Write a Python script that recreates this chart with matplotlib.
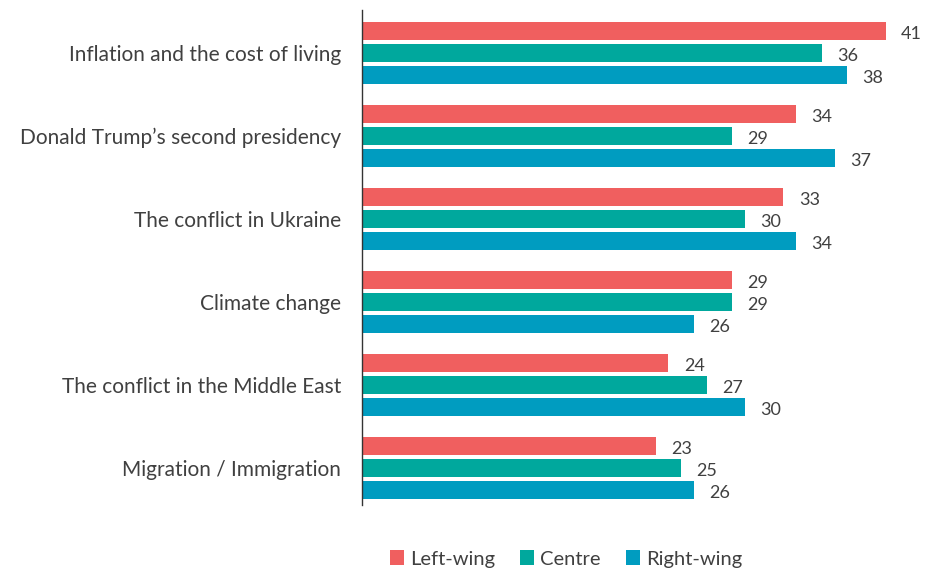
import matplotlib
matplotlib.use("Agg")
import matplotlib.pyplot as plt
from matplotlib.patches import Patch

categories = [
    "Inflation and the cost of living",
    "Donald Trump\u2019s second presidency",
    "The conflict in Ukraine",
    "Climate change",
    "The conflict in the Middle East",
    "Migration / Immigration",
]
series_names = ["Left-wing", "Centre", "Right-wing"]
left_wing = [41, 34, 33, 29, 24, 23]
centre = [36, 29, 30, 29, 27, 25]
right_wing = [38, 37, 34, 26, 30, 26]

colors = ["#F05F5F", "#00A89D", "#009CC0"]
text_color = "#404040"

plt.rcParams["font.family"] = ["Lato", "DejaVu Sans"]

W, H = 929, 572
fig = plt.figure(figsize=(W / 100, H / 100), dpi=100)
ax_left, ax_right = 362, 929
ax_top, ax_bottom = 10, 505
ax = fig.add_axes([ax_left / W, 1 - ax_bottom / H, (ax_right - ax_left) / W, (ax_bottom - ax_top) / H])

offset = 0.265
height = 0.215
all_series = [left_wing, centre, right_wing]
for k, (vals, col) in enumerate(zip(all_series, colors)):
    ys = [i + (k - 1) * offset for i in range(len(categories))]
    ax.barh(ys, vals, height=height, color=col, edgecolor="none")
    for y, v in zip(ys, vals):
        ax.annotate(str(v), xy=(v, y), xytext=(11, -2), textcoords="offset points",
                    va="center", ha="left", fontsize=13, color=text_color)

ax.set_xlim(0, 44.4)
ax.set_ylim(len(categories) - 1 + 0.446, -0.518)
ax.set_yticks(range(len(categories)))
ax.set_yticklabels(categories, fontsize=15, color=text_color)
ax.tick_params(axis="y", length=0, pad=15)
ax.set_xticks([])
for s in ["top", "right", "bottom"]:
    ax.spines[s].set_visible(False)
ax.spines["left"].set_color("#333333")
ax.spines["left"].set_linewidth(1.0)

handles = [Patch(facecolor=c, edgecolor="none", label=n) for c, n in zip(colors, series_names)]
fig.legend(handles=handles, loc="center", bbox_to_anchor=(566 / W, 1 - 559 / H), ncol=3,
           frameon=False, fontsize=14.5, handlelength=0.7, handleheight=0.7,
           handletextpad=0.3, columnspacing=1.25, labelcolor=text_color)

fig.savefig("out.png", dpi=100, facecolor="white")
